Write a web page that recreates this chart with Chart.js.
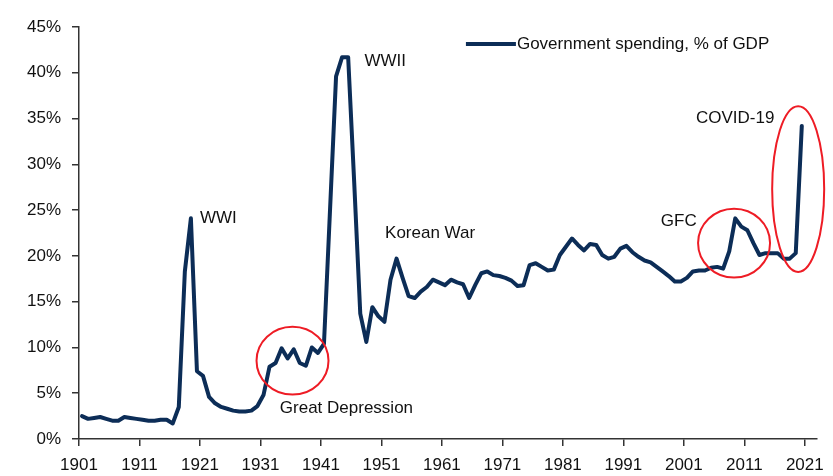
<!DOCTYPE html>
<html>
<head>
<meta charset="utf-8">
<script src="https://cdn.jsdelivr.net/npm/chart.js@4.4.1/dist/chart.umd.min.js"></script>
<style>
html, body { margin: 0; padding: 0; background: #fff; }
#wrap { width: 833px; height: 476px; position: relative; }
</style>
</head>
<body>
<div id="wrap"><canvas id="spending-chart"></canvas></div>
<script>
// US government spending, % of GDP, one value per year from 1901
const firstYear = 1901;
const spending = [
  2.5, 2.2, 2.3, 2.4, 2.2, 2.0, 2.0, 2.4, 2.3, 2.2,      // 1901-1910
  2.1, 2.0, 2.0, 2.1, 2.1, 1.7, 3.5, 18.3, 24.1, 7.4,    // 1911-1920
  6.9, 4.6, 3.9, 3.5, 3.3, 3.1, 3.0, 3.0, 3.1, 3.6,      // 1921-1930
  4.8, 7.9, 8.3, 9.9, 8.8, 9.8, 8.3, 8.0, 10.0, 9.4,     // 1931-1940
  10.4, 25.0, 39.6, 41.7, 41.7, 28.0, 13.7, 10.6, 14.4, 13.4, // 1941-1950
  12.8, 17.4, 19.7, 17.6, 15.6, 15.4, 16.1, 16.6, 17.4, 17.1, // 1951-1960
  16.8, 17.4, 17.1, 16.9, 15.4, 16.8, 18.1, 18.3, 17.9, 17.8, // 1961-1970
  17.6, 17.3, 16.7, 16.8, 19.0, 19.2, 18.8, 18.4, 18.5, 20.1, // 1971-1980
  21.0, 21.9, 21.2, 20.6, 21.3, 21.2, 20.1, 19.7, 19.9, 20.8, // 1981-1990
  21.1, 20.4, 19.9, 19.5, 19.3, 18.8, 18.3, 17.8, 17.2, 17.2, // 1991-2000
  17.6, 18.3, 18.4, 18.4, 18.7, 18.8, 18.6, 20.5, 24.1, 23.2, // 2001-2010
  22.8, 21.4, 20.1, 20.3, 20.3, 20.3, 19.7, 19.7, 20.3, 34.2  // 2011-2020
];
const years = spending.map((v, i) => firstYear + i);
const tickYears = [1901, 1911, 1921, 1931, 1941, 1951, 1961, 1971, 1981, 1991, 2001, 2011, 2021];
const yTicks = [0, 5, 10, 15, 20, 25, 30, 35, 40, 45];

// event labels and red rings, anchored in data units
const notes = [
  { text: 'WWI', year: 1920.5, value: 24.1 },
  { text: 'WWII', year: 1947.7, value: 41.2 },
  { text: 'Korean War', year: 1951.1, value: 22.5 },
  { text: 'Great Depression', year: 1933.7, value: 3.3 },
  { text: 'GFC', year: 1996.7, value: 23.8 },
  { text: 'COVID-19', year: 2002.5, value: 35.0 }
];
const rings = [
  { year: 1935.8, value: 8.55, rx: 5.95, ry: 3.7 },
  { year: 2008.8, value: 21.4, rx: 5.95, ry: 3.76 },
  { year: 2019.4, value: 27.3, rx: 4.3, ry: 9.05 }
];

const navy = '#0c2d57';
const fontFamily = '"Liberation Sans", Arial, sans-serif';
Chart.defaults.font.family = fontFamily;
Chart.defaults.font.size = 17;
Chart.defaults.color = '#111';

const notesPlugin = {
  id: 'notes',
  afterDraw(chart) {
    const ctx = chart.ctx;
    const xs = chart.scales.x, ys = chart.scales.y;
    const area = chart.chartArea;
    ctx.save();
    // red rings
    ctx.strokeStyle = '#ee1c25';
    ctx.lineWidth = 2;
    rings.forEach(r => {
      const cx = xs.getPixelForValue(r.year), cy = ys.getPixelForValue(r.value);
      const rx = xs.getPixelForValue(r.year + r.rx) - cx;
      const ry = cy - ys.getPixelForValue(r.value + r.ry);
      ctx.beginPath();
      ctx.ellipse(cx, cy, rx, ry, 0, 0, Math.PI * 2);
      ctx.stroke();
    });
    // labels
    ctx.fillStyle = '#111';
    ctx.font = '17px ' + fontFamily;
    ctx.textAlign = 'left';
    ctx.textBaseline = 'middle';
    notes.forEach(n => {
      ctx.fillText(n.text, xs.getPixelForValue(n.year), ys.getPixelForValue(n.value));
    });
    // legend
    const ly = area.top + 17;
    const lx = area.right - 351;
    ctx.strokeStyle = navy;
    ctx.lineWidth = 4;
    ctx.beginPath();
    ctx.moveTo(lx, ly);
    ctx.lineTo(lx + 50, ly);
    ctx.stroke();
    ctx.fillText(chart.data.datasets[0].label, lx + 51, ly);
    ctx.restore();
  }
};

new Chart(document.getElementById('spending-chart'), {
  type: 'line',
  data: {
    datasets: [{
      label: 'Government spending, % of GDP',
      data: years.map((y, i) => ({ x: y, y: spending[i] })),
      borderColor: navy,
      borderWidth: 4,
      borderJoinStyle: 'round',
      borderCapStyle: 'round',
      pointRadius: 0,
      tension: 0,
      fill: false
    }]
  },
  options: {
    responsive: true,
    maintainAspectRatio: false,
    animation: false,
    layout: { padding: { top: 27, right: 16, left: 0, bottom: 0 } },
    plugins: {
      legend: { display: false },
      tooltip: { enabled: false }
    },
    scales: {
      x: {
        type: 'linear',
        min: 1900.5,
        max: 2022.5,
        // each year is plotted mid-year, ticks sit on the year start
        afterBuildTicks: s => { s.ticks = tickYears.map(y => ({ value: y - 0.5 })); },
        afterFit: s => { s.height = 37; },
        grid: { drawOnChartArea: false, tickLength: 7, color: '#333', lineWidth: 1.5 },
        border: { color: '#333', width: 1.5 },
        ticks: {
          autoSkip: false,
          maxRotation: 0,
          padding: 9,
          color: '#111',
          callback: v => String(Math.round(v + 0.5))
        }
      },
      y: {
        min: 0,
        max: 45,
        afterBuildTicks: s => { s.ticks = yTicks.map(v => ({ value: v })); },
        afterFit: s => { s.width = 79; },
        grid: { drawOnChartArea: false, tickLength: 7, color: '#333', lineWidth: 1.5 },
        border: { color: '#333', width: 1.5 },
        ticks: {
          padding: 11,
          color: '#111',
          callback: v => v + '%'
        }
      }
    }
  },
  plugins: [notesPlugin]
});
</script>
</body>
</html>
